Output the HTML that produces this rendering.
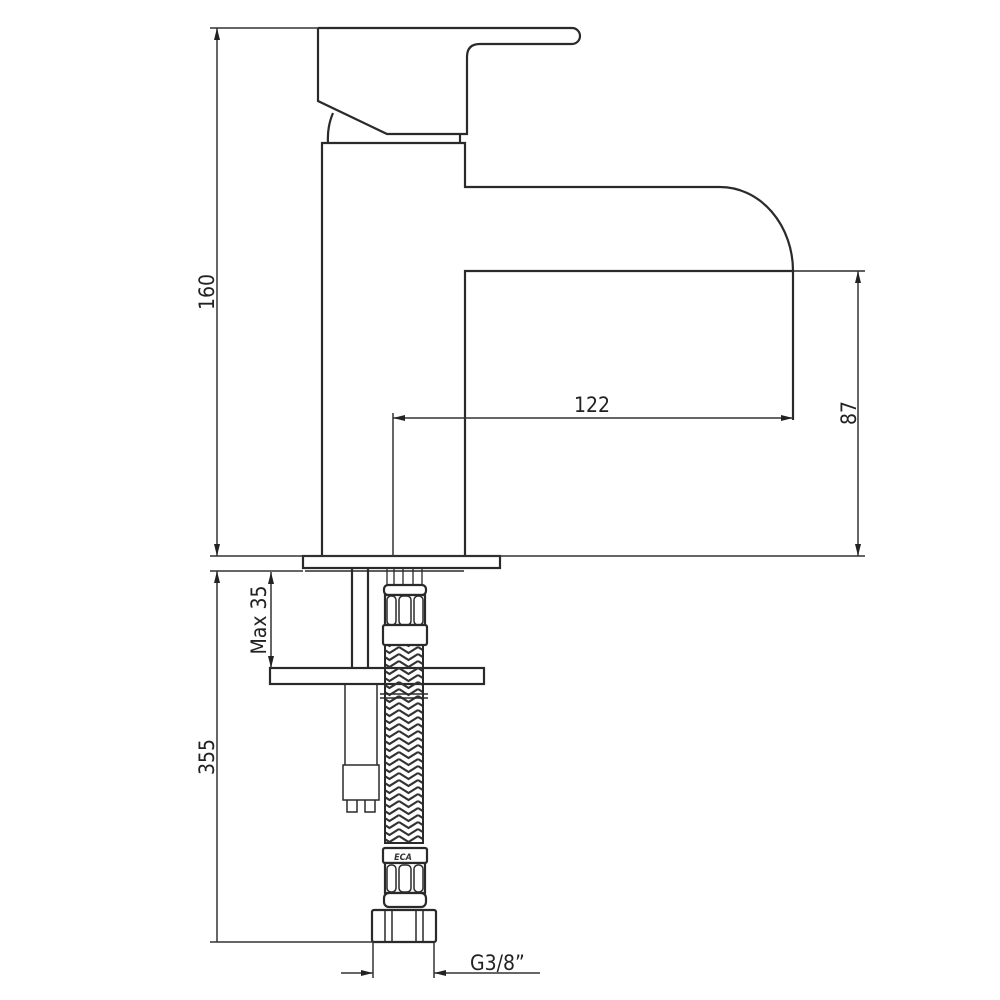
<!DOCTYPE html>
<html><head><style>html,body{margin:0;padding:0;background:#fff}svg{display:block}</style></head>
<body>
<svg width="1000" height="1000" viewBox="0 0 1000 1000" xmlns="http://www.w3.org/2000/svg" font-family="'DejaVu Sans Condensed','Liberation Sans',sans-serif">
<defs>
<pattern id="br" width="19" height="14" patternUnits="userSpaceOnUse">
<path d="M0,3 L9.5,9 L19,3 M0,-4 L9.5,2 L19,-4 M0,10 L9.5,16 L19,10" stroke="#333" stroke-width="2.2" fill="none"/>
</pattern>
<marker id="a" markerWidth="12" markerHeight="6" refX="12" refY="3" orient="auto" markerUnits="userSpaceOnUse"><path d="M0,0 L12,3 L0,6 Z" fill="#222"/></marker>
</defs>
<g stroke="#2a2a2a" stroke-width="2.2" fill="none">
<path d="M318,28 H572 A8,8 0 0 1 572,44 H480 Q467,44 467,57 V134 H387 L318,101 V28"/>
<path d="M333,113 Q327,127 328,143"/>
<line x1="460" y1="134" x2="460" y2="143"/>
<path d="M322,556 V143 H465 V187 H720 A73,84 0 0 1 793,271 H465 V556"/>
<line x1="793" y1="271" x2="793" y2="420"/>
<line x1="793" y1="271" x2="865" y2="271" stroke-width="1.6"/>
<rect x="303" y="556" width="197" height="12"/>
<line x1="305" y1="571" x2="464" y2="571" stroke-width="1.5"/>
<line x1="352" y1="568" x2="352" y2="668"/><line x1="368" y1="568" x2="368" y2="668"/>
<line x1="345" y1="684" x2="345" y2="765" stroke-width="1.5"/><line x1="377" y1="684" x2="377" y2="765" stroke-width="1.5"/>
<rect x="343" y="765" width="36" height="35" stroke-width="1.5"/>
<path d="M347,800 V812 H357 V800 M365,800 V812 H375 V800" stroke-width="1.5"/>
<rect x="270" y="668" width="214" height="16"/>
<path d="M387,568 V585 M394,568 V585 M403,568 V585 M413,568 V585 M422,568 V585" stroke-width="1.3"/>
<rect x="384" y="585" width="42" height="10" rx="4" fill="#fff"/>
<rect x="385" y="595" width="40" height="30" fill="#fff"/>
<rect x="387" y="596" width="9" height="29" rx="4" stroke-width="1.5"/>
<rect x="399" y="596" width="12" height="29" rx="4" stroke-width="1.5"/>
<rect x="414" y="596" width="9" height="29" rx="4" stroke-width="1.5"/>
<rect x="383" y="625" width="44" height="20" rx="2" fill="#fff"/>
<rect x="385" y="645" width="38" height="198" fill="url(#br)" stroke-width="2"/>
<line x1="380" y1="694" x2="428" y2="694" stroke-width="1.5"/><line x1="380" y1="698" x2="428" y2="698" stroke-width="1.5"/>
<rect x="383" y="848" width="44" height="15" rx="2" fill="#fff"/>
<rect x="385" y="863" width="40" height="30" fill="#fff"/>
<rect x="387" y="865" width="9" height="27" rx="4" stroke-width="1.5"/>
<rect x="399" y="865" width="12" height="27" rx="4" stroke-width="1.5"/>
<rect x="414" y="865" width="9" height="27" rx="4" stroke-width="1.5"/>
<rect x="384" y="893" width="42" height="14" rx="5" fill="#fff"/>
<rect x="372" y="910" width="64" height="32" rx="2" fill="#fff"/>
<path d="M385,910 V942 M392,910 V942 M416,910 V942 M423,910 V942" stroke-width="1.5"/>
</g>
<text x="403" y="860" font-size="9" font-style="italic" font-weight="bold" text-anchor="middle" fill="#333">ECA</text>
<g stroke="#333" stroke-width="1.5" fill="none">
<line x1="210" y1="28" x2="318" y2="28"/>
<line x1="210" y1="556" x2="865" y2="556"/>
<line x1="217" y1="290" x2="217" y2="28" marker-end="url(#a)"/>
<line x1="217" y1="290" x2="217" y2="556" marker-end="url(#a)"/>
<line x1="858" y1="410" x2="858" y2="271" marker-end="url(#a)"/>
<line x1="858" y1="410" x2="858" y2="556" marker-end="url(#a)"/>
<line x1="393" y1="413" x2="393" y2="556"/>
<line x1="600" y1="418" x2="393" y2="418" marker-end="url(#a)"/>
<line x1="600" y1="418" x2="793" y2="418" marker-end="url(#a)"/>
<line x1="210" y1="571" x2="303" y2="571"/>
<line x1="217" y1="942" x2="217" y2="571" marker-end="url(#a)"/>
<line x1="210" y1="942" x2="373" y2="942"/>
<line x1="271" y1="620" x2="271" y2="572" marker-end="url(#a)"/>
<line x1="271" y1="620" x2="271" y2="668" marker-end="url(#a)"/>
<line x1="373" y1="942" x2="373" y2="978"/>
<line x1="434" y1="942" x2="434" y2="978"/>
<line x1="341" y1="973" x2="373" y2="973" marker-end="url(#a)"/>
<line x1="540" y1="973" x2="434" y2="973" marker-end="url(#a)"/>
</g>
<g fill="#222" font-size="21">
<text transform="translate(214,292) rotate(-90)" text-anchor="middle">160</text>
<text transform="translate(856,413) rotate(-90)" text-anchor="middle">87</text>
<text x="592" y="412" text-anchor="middle">122</text>
<text transform="translate(214,757) rotate(-90)" text-anchor="middle">355</text>
<text transform="translate(266,620) rotate(-90)" text-anchor="middle">Max 35</text>
<text x="470" y="970">G3/8”</text>
</g>
</svg>
</body></html>
